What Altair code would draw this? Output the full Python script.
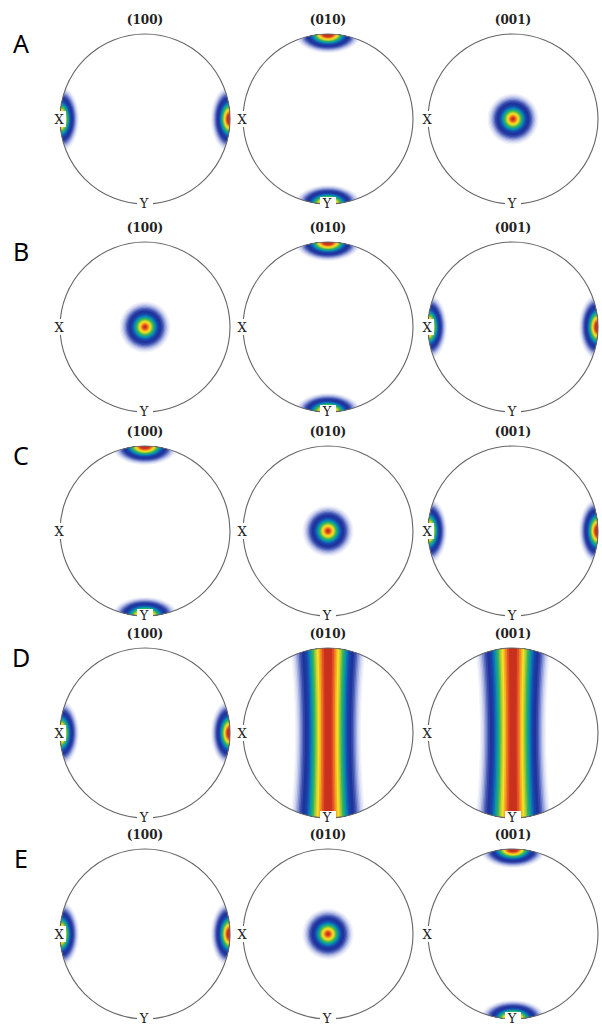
import numpy as np
import pandas as pd
import altair as alt

# ---------------- data ----------------
ROW_LABELS = ["A", "B", "C", "D", "E"]
COL_TITLES = ["(100)", "(010)", "(001)"]
# where the density sits in each pole figure:
# X = poles on the rim at X (left/right), Y = poles on the rim at Y (top/bottom),
# Z = pole at the centre, G = girdle running from top to bottom through the centre
PANEL_POLES = [
    ["X", "Y", "Z"],
    ["Z", "Y", "X"],
    ["Y", "Z", "X"],
    ["X", "G", "G"],
    ["X", "Z", "Y"],
]
# contour levels, outside -> inside (fraction of the spot size) and their colours
LEVEL_FRAC = [1.00, 0.95, 0.90, 0.85, 0.80, 0.75, 0.70, 0.64, 0.56, 0.50, 0.46,
              0.42, 0.38, 0.34, 0.30, 0.26, 0.22, 0.18, 0.14, 0.10, 0.06]
LEVEL_COLOR = ["#f1f2fa", "#e2e5f5", "#cbd1ed", "#aab3e1", "#8290d2", "#5668bf",
               "#3447aa", "#1f339c", "#1a3fa6", "#1456b2", "#0c74b4", "#0a93aa",
               "#16a785", "#3cb55c", "#86c340", "#cdd62c", "#f6e020", "#f5b023",
               "#ee7c22", "#e24c24", "#c9301e"]

# ---------------- layout / style ----------------
W, H = 602, 1025
R = 85.0
COL_CX = [145, 328, 513]
ROW_CY = [119, 327, 531, 733, 934]
BLOB_R = 25.5 / R          # centre spot radius (unit circle)
RIM_T, RIM_R = 33.0 / R, 19.0 / R   # rim spot: tangential / radial half axes
GIRDLE_W = 33.0 / R        # girdle half width at the centre
GIRDLE_FLARE = 0.14        # girdle widening towards the rim
GIRDLE_EXP = 0.8           # girdle profile is flatter than a spot
CORE = 0.10                # rim spots have a broader core

def path_from(pts):
    return "M" + "L".join(f"{u:.3f},{-v:.3f}" for u, v in pts) + "Z"

def centre_blob(f):
    r = BLOB_R * f
    th = np.linspace(0, 2 * np.pi, 48, endpoint=False)
    return path_from(zip(r * np.cos(th), r * np.sin(th)))

def rim_blob(d, f):
    d = np.array(d, float)
    n = np.array([-d[1], d[0]])
    ar, at = RIM_R * f, RIM_T * f
    c = d * (1 - ar / 2)
    phi = np.linspace(0, 2 * np.pi, 72, endpoint=False)
    dirs = np.stack([np.cos(phi), np.sin(phi)], 1)
    dr, dt = dirs @ d, dirs @ n
    q0 = -ar / 2
    A = dr ** 2 / ar ** 2 + dt ** 2 / at ** 2
    B = 2 * q0 * dr / ar ** 2
    C = q0 ** 2 / ar ** 2 - 1
    t_e = (-B + np.sqrt(B ** 2 - 4 * A * C)) / (2 * A)
    cd = dirs @ c
    t_c = -cd + np.sqrt(cd ** 2 - c @ c + 1)
    t = np.minimum(t_e, t_c)
    pts = c + t[:, None] * dirs
    return path_from(pts)

def girdle(f):
    w0 = GIRDLE_W * f ** GIRDLE_EXP
    th = np.linspace(-np.pi / 2, np.pi / 2, 121)
    v = np.sin(th)
    w = w0 * (1 + GIRDLE_FLARE * v ** 2)
    u = np.minimum(w, np.sqrt(np.clip(1 - v ** 2, 0, None)))
    pts = list(zip(u, v)) + list(zip(-u[::-1], v[::-1]))
    return path_from(pts)

def shapes_for(kind, f):
    g = CORE + (1 - CORE) * f
    if kind == "Z":
        return [centre_blob(f)]
    if kind == "X":
        return [rim_blob((-1, 0), g), rim_blob((1, 0), g)]
    if kind == "Y":
        return [rim_blob((0, 1), g), rim_blob((0, -1), g)]
    return [girdle(f)]

blob_rows, panel_rows, box_rows, lab_rows = [], [], [], []
for i, row in enumerate(PANEL_POLES):
    for j, kind in enumerate(row):
        cx, cy = COL_CX[j], ROW_CY[i]
        seq = 0
        for f, colr in zip(LEVEL_FRAC, LEVEL_COLOR):
            for s in shapes_for(kind, f):
                blob_rows.append(dict(x=cx, y=cy, shape=s, color=colr,
                                      size=4 * R * R, seq=seq))
                seq += 1
        panel_rows.append(dict(x=cx, y=cy, title=COL_TITLES[j],
                               ty=cy - R - 14, letter=ROW_LABELS[i] if j == 0 else "",
                               lx=21, ly=cy - 74))
        box_rows.append(dict(x1=cx - R - 6, x2=cx - R + 6, y1=cy - 8, y2=cy + 8))
        box_rows.append(dict(x1=cx - 8, x2=cx + 8, y1=cy + R - 7, y2=cy + R + 7))
        lab_rows.append(dict(x=cx - R - 1, y=cy + 1, t="X"))
        lab_rows.append(dict(x=cx - 1, y=cy + R, t="Y"))

blobs = pd.DataFrame(blob_rows)
panels = pd.DataFrame(panel_rows)
boxes = pd.DataFrame(box_rows)
labs = pd.DataFrame(lab_rows)

xs = alt.Scale(domain=[0, W], nice=False, zero=False)
ys = alt.Scale(domain=[H, 0], nice=False, zero=False)

blob_layer = alt.Chart(blobs).mark_point(filled=True, opacity=1, strokeWidth=0).encode(
    x=alt.X("x:Q", scale=xs, axis=None),
    y=alt.Y("y:Q", scale=ys, axis=None),
    shape=alt.Shape("shape:N", scale=None),
    size=alt.Size("size:Q", scale=None),
    color=alt.Color("color:N", scale=None),
    order=alt.Order("seq:Q"),
)

outline = alt.Chart(panels).mark_point(shape="circle", filled=False, opacity=1,
                                       stroke="#666666", strokeWidth=1.1,
                                       size=4 * R * R).encode(
    x=alt.X("x:Q", scale=xs, axis=None),
    y=alt.Y("y:Q", scale=ys, axis=None),
)

box_layer = alt.Chart(boxes).mark_rect(color="white").encode(
    x=alt.X("x1:Q", scale=xs, axis=None), x2="x2:Q",
    y=alt.Y("y1:Q", scale=ys, axis=None), y2="y2:Q",
)

lab_layer = alt.Chart(labs).mark_text(font="DejaVu Serif", fontSize=13, color="#222222",
                                      align="center", baseline="middle").encode(
    x=alt.X("x:Q", scale=xs, axis=None),
    y=alt.Y("y:Q", scale=ys, axis=None),
    text="t:N",
)

title_layer = alt.Chart(panels).mark_text(font="DejaVu Serif", fontSize=12, fontWeight="bold",
                                          color="#222222", align="center",
                                          baseline="middle").encode(
    x=alt.X("x:Q", scale=xs, axis=None),
    y=alt.Y("ty:Q", scale=ys, axis=None),
    text="title:N",
)

letter_layer = alt.Chart(panels).mark_text(font="Noto Sans", fontSize=25, color="black",
                                           align="center", baseline="middle").encode(
    x=alt.X("lx:Q", scale=xs, axis=None),
    y=alt.Y("ly:Q", scale=ys, axis=None),
    text="letter:N",
)

chart = alt.layer(blob_layer, outline, box_layer, lab_layer, title_layer, letter_layer).properties(
    width=W, height=H, padding=0, background="white",
    autosize=alt.AutoSizeParams(type="none"),
).configure_view(stroke=None)

chart.save("out.html", embed_options={"renderer": "svg", "actions": False})
